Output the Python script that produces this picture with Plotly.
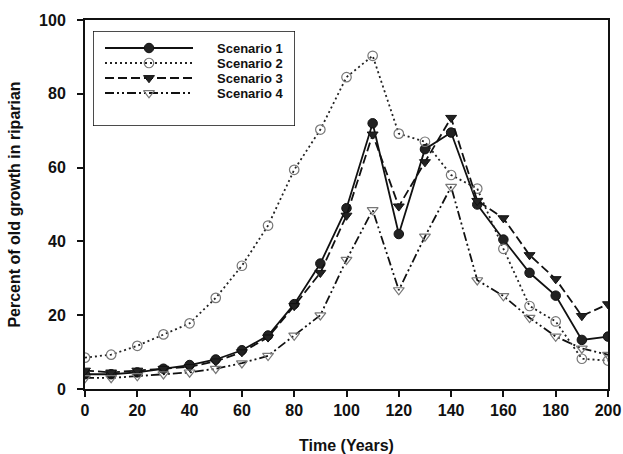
import plotly.graph_objects as go

# Simulation time steps (years)
years = [0, 10, 20, 30, 40, 50, 60, 70, 80, 90, 100,
         110, 120, 130, 140, 150, 160, 170, 180, 190, 200]

# Percent of old growth in riparian area, per scenario
scenario_1 = [4, 4, 4.5, 5.5, 6.5, 8, 10.5, 14.5, 23, 34, 49,
              72, 42, 65, 69.5, 50, 40.5, 31.5, 25.3, 13.3, 14.2]
scenario_2 = [8.5, 9.3, 11.7, 14.8, 17.8, 24.7, 33.4, 44.3, 59.4, 70.3, 84.5,
              90.3, 69.2, 67, 58, 54.3, 38, 22.5, 18.3, 8.2, 7.7]
scenario_3 = [5, 4.5, 5, 5.5, 6, 7.5, 10, 14, 22.5, 31.5, 47,
              69, 49.5, 61.5, 73.5, 51, 46.3, 36.3, 29.8, 19.8, 23]
scenario_4 = [3, 3, 3.5, 4, 4.5, 5.5, 7, 9, 14.5, 20, 35,
              48.5, 26.8, 41.3, 54.8, 29.5, 25.2, 19.3, 14.2, 11, 9.3]

scenario_names = ["Scenario 1", "Scenario 2", "Scenario 3", "Scenario 4"]
x_ticks = [0, 20, 40, 60, 80, 100, 120, 140, 160, 180, 200]
y_ticks = [0, 20, 40, 60, 80, 100]

FONT = "Liberation Sans, Arial, sans-serif"
INK = "#111111"
GREY = "#777777"

styles = [
    dict(line=dict(color=INK, width=1.8, dash="solid"),
         marker=dict(symbol="circle", size=9.5, color="#222222",
                     line=dict(color=INK, width=1))),
    dict(line=dict(color="#222222", width=1.8, dash="2px,3px"),
         marker=dict(symbol="circle-open", size=9.5, color=GREY,
                     line=dict(color=GREY, width=1.2))),
    dict(line=dict(color=INK, width=1.8, dash="9px,4px"),
         marker=dict(symbol="triangle-down", size=9.5, color="#222222",
                     line=dict(color=INK, width=1))),
    dict(line=dict(color=INK, width=1.8, dash="9px,3px,2px,3px,2px,3px"),
         marker=dict(symbol="triangle-down-open", size=9.5, color=GREY,
                     line=dict(color=GREY, width=1.2))),
]

fig = go.Figure()

# Data series on the main axes
for name, values, st in zip(scenario_names,
                            [scenario_1, scenario_2, scenario_3, scenario_4],
                            styles):
    fig.add_trace(go.Scatter(x=years, y=values, name=name, mode="lines+markers",
                             showlegend=False, xaxis="x", yaxis="y", **st))

# Legend panel: a hidden overlay axis measured in pixels of the panel box
LEG_W, LEG_H = 202, 95          # panel size (px)
KEY_X0, KEY_X1 = 12, 100        # key line start/end inside the panel
TEXT_X = 122                    # label start inside the panel
ROW_Y0, ROW_DY = 17, 15         # first row centre and row pitch

for i, (name, st) in enumerate(zip(scenario_names, styles)):
    row_y = ROW_Y0 + i * ROW_DY
    key_marker = dict(st["marker"])
    key_marker["opacity"] = [0, 1, 0]
    fig.add_trace(go.Scatter(
        x=[KEY_X0, (KEY_X0 + KEY_X1) / 2, KEY_X1], y=[row_y] * 3,
        mode="lines+markers", line=st["line"], marker=key_marker,
        showlegend=False, hoverinfo="skip", xaxis="x2", yaxis="y2",
    ))
    fig.add_annotation(
        x=TEXT_X, y=row_y, xref="x2", yref="y2", text=f"<b>{name}</b>",
        showarrow=False, xanchor="left", yanchor="middle",
        font=dict(family=FONT, size=13, color=INK),
    )

fig.add_shape(type="rect", xref="x2", yref="y2", x0=0, x1=LEG_W, y0=0, y1=LEG_H,
              line=dict(color=INK, width=1.5), fillcolor="white", layer="below")

axis_common = dict(
    showline=True, linecolor=INK, linewidth=2, mirror=True,
    ticks="outside", ticklen=6, tickwidth=1.5, tickcolor=INK,
    showgrid=False, zeroline=False, automargin=False,
    tickfont=dict(family=FONT, size=16, color=INK, weight="bold"),
)

# plot area in pixels: x 85..608, y 20..389
PL, PR, PT, PB = 85, 608, 20, 389
leg_left, leg_top = 93, 31

fig.update_layout(
    width=623, height=454,
    margin=dict(l=PL, r=623 - PR, t=PT, b=454 - PB),
    paper_bgcolor="white", plot_bgcolor="white",
    font=dict(family=FONT, color=INK),
    showlegend=False,
    xaxis=dict(
        range=[0, 200], tickvals=x_ticks, ticktext=[str(v) for v in x_ticks],
        title=dict(text="<b>Time (Years)</b>", standoff=24,
                   font=dict(family=FONT, size=16, color=INK)),
        ticklabelstandoff=0, **axis_common,
    ),
    yaxis=dict(
        range=[0, 100], tickvals=y_ticks, ticktext=[str(v) for v in y_ticks],
        title=dict(text="<b>Percent of old growth in riparian</b>", standoff=14,
                   font=dict(family=FONT, size=16, color=INK)),
        ticklabelstandoff=8, **axis_common,
    ),
    xaxis2=dict(
        domain=[(leg_left - PL) / (PR - PL), (leg_left + LEG_W - PL) / (PR - PL)],
        range=[0, LEG_W], visible=False, anchor="y2", fixedrange=True,
    ),
    yaxis2=dict(
        domain=[(PB - leg_top - LEG_H) / (PB - PT), (PB - leg_top) / (PB - PT)],
        range=[LEG_H, 0], visible=False, anchor="x2", fixedrange=True,
    ),
)

fig.write_html("out.html")
